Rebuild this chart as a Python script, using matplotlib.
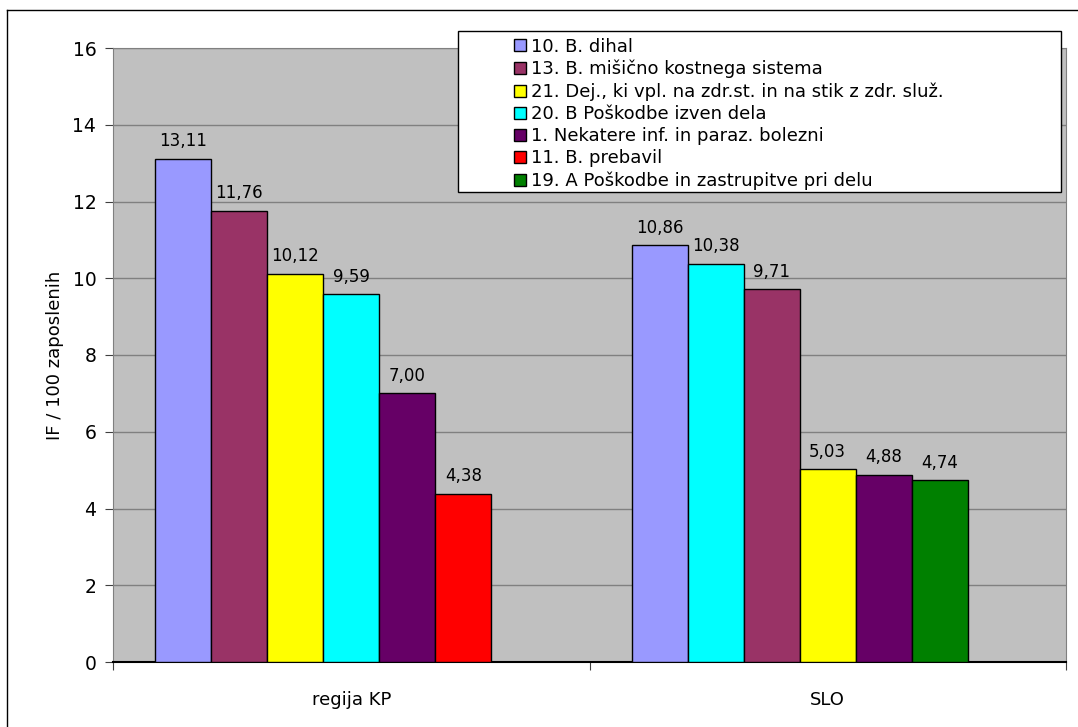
import matplotlib.pyplot as plt
from matplotlib.lines import Line2D
from matplotlib.patches import Rectangle

categories = ["regija KP", "SLO"]

legend_codes = ["10", "13", "21", "20", "1", "11", "19"]
legend_labels = ["10. B. dihal",
                 "13. B. mišično kostnega sistema",
                 "21. Dej., ki vpl. na zdr.st. in na stik z zdr. služ.",
                 "20. B Poškodbe izven dela",
                 "1. Nekatere inf. in paraz. bolezni",
                 "11. B. prebavil",
                 "19. A Poškodbe in zastrupitve pri delu"]
legend_colors = ["#9999FF", "#993366", "#FFFF00", "#00FFFF", "#660066", "#FF0000", "#008000"]

kp_codes = ["10", "13", "21", "20", "1", "11"]
kp_values = [13.11, 11.76, 10.12, 9.59, 7.00, 4.38]
slo_codes = ["10", "20", "13", "21", "1", "19"]
slo_values = [10.86, 10.38, 9.71, 5.03, 4.88, 4.74]

color_of = dict(zip(legend_codes, legend_colors))

fig = plt.figure(figsize=(10.78, 7.27), dpi=100)
ax = fig.add_axes([113/1078, 1-662/727, (1066-113)/1078, (662-48)/727])
ax.set_facecolor("#C0C0C0")

nslots = 7
slot = 1.0 / (nslots + 1.5)
groups = [(kp_codes, kp_values), (slo_codes, slo_values)]
for i, (codes, vals) in enumerate(groups):
    for j, (c, v) in enumerate(zip(codes, vals)):
        x = i - 0.5 + 0.75 * slot + (j + 0.5) * slot
        ax.bar(x, v, width=slot, color=color_of[c], edgecolor="black", linewidth=1, zorder=3)
        ax.text(x, v + 0.22, f"{v:.2f}".replace(".", ","), ha="center", va="bottom",
                fontsize=12, zorder=4)

ax.set_xlim(-0.5, 1.5)
ax.set_ylim(0, 16)
ax.set_yticks(range(0, 17, 2))
ax.yaxis.grid(True, color="#808080", linewidth=1, zorder=0)
ax.set_axisbelow(True)
ax.set_xticks([-0.5, 0.5, 1.5])
ax.set_xticklabels([])
ax.set_xticks([0, 1], minor=True)
ax.set_xticklabels(categories, minor=True, fontsize=13)
ax.tick_params(axis="x", which="minor", length=0, pad=21)
ax.tick_params(axis="x", which="major", length=6, color="#404040")
ax.tick_params(axis="y", length=6, color="#404040", labelsize=13.5, pad=6)
ax.set_ylabel("IF / 100 zaposlenih", fontsize=13, labelpad=6)
for s in ["top", "right", "left"]:
    ax.spines[s].set_color("#808080")
ax.spines["bottom"].set_color("black")
ax.spines["bottom"].set_linewidth(1.5)

# legend box
fig.patches.append(Rectangle((458/1078, 1-192/727), (1061-458)/1078, (192-31)/727,
                             transform=fig.transFigure, facecolor="white",
                             edgecolor="black", linewidth=1, zorder=5))
handles = [Line2D([], [], marker="s", linestyle="none", markersize=8,
                  markerfacecolor=c, markeredgecolor="black") for c in legend_colors]
leg = fig.legend(handles, legend_labels, loc="upper left",
                 bbox_to_anchor=(497/1078, 1-24/727), frameon=False,
                 fontsize=13, labelspacing=0.23, handletextpad=0.15,
                 handlelength=1.0, borderpad=0.25)
leg.set_zorder(6)

# outer border
fig.add_artist(Line2D([7/1078, 1], [1-10/727, 1-10/727], transform=fig.transFigure,
                      color="black", linewidth=1))
fig.add_artist(Line2D([7/1078, 7/1078], [0, 1-10/727], transform=fig.transFigure,
                      color="black", linewidth=1))

fig.savefig("out.png", dpi=100)
